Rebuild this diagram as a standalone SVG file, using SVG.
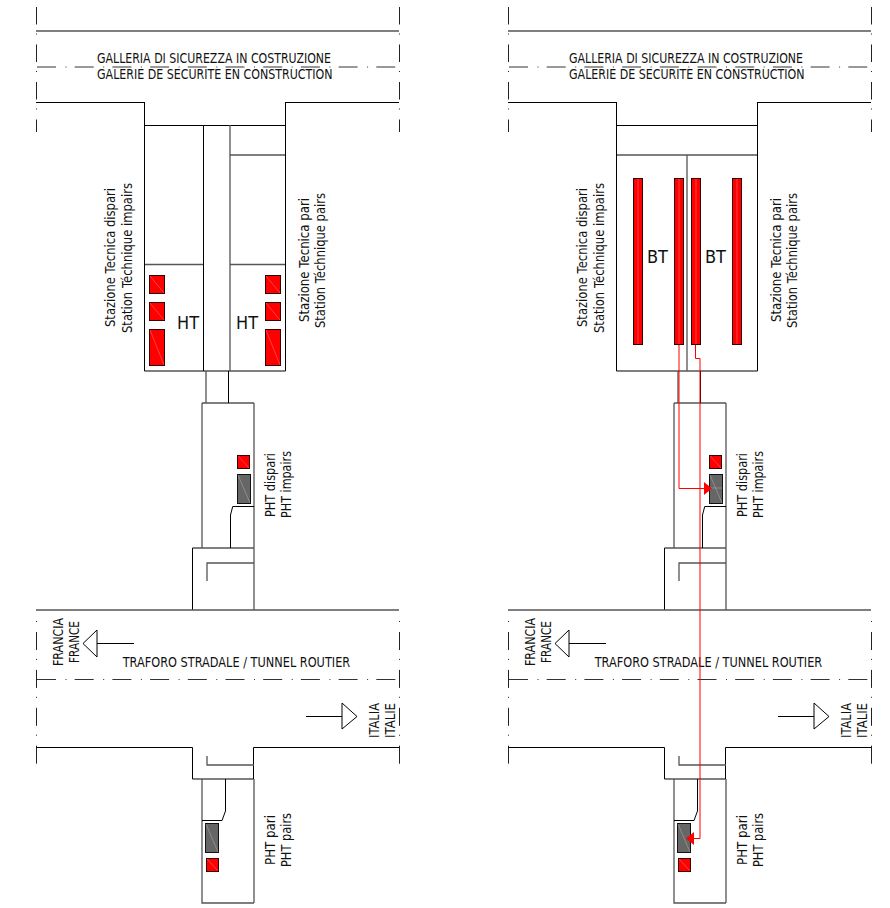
<svg xmlns="http://www.w3.org/2000/svg" width="890" height="908" viewBox="0 0 890 908">
<style>
text{font-family:"DejaVu Sans","Liberation Sans",sans-serif;font-size:13.500px;fill:#111}
.ht{font-size:17.500px}
.l{fill:none;stroke:#000;stroke-width:1}
.g{fill:none;stroke:#555;stroke-width:1.3}
.dt{fill:none;stroke:#222;stroke-width:1;stroke-dasharray:17.5 9 1 10}
.db{fill:none;stroke:#222;stroke-width:1;stroke-dasharray:1 10 18 8.9}
.dh{fill:none;stroke:#333;stroke-width:1;stroke-dasharray:19 9.5 1 8.2}
.r{fill:#f00;stroke:#300;stroke-width:1}
.k{fill:#666;stroke:#111;stroke-width:1}
.h{fill:none;stroke:#fff;stroke-opacity:.35;stroke-width:.7}
.w{fill:none;stroke:#f00;stroke-width:1}
</style>
<g id="panel-ht">
<g id="gallery">
<path class="dt" d="M36.500 7V132M399.500 7V132"/>
<path class="g" d="M36 31H399"/>
<path class="dh" d="M37 67H400"/>
<path class="l" d="M36 102.500H145M286 102.500H399"/>
<text x="97" y="63" textLength="234" lengthAdjust="spacingAndGlyphs">GALLERIA DI SICUREZZA IN COSTRUZIONE</text>
<text x="97" y="78.500" textLength="235.500" lengthAdjust="spacingAndGlyphs">GALERIE DE SECURITE EN CONSTRUCTION</text>
</g>
<g id="station-ht">
<path class="l" d="M144.500 102V371H285.500V102M144.500 125.500H285.500M203.500 125V371"/>
<path class="g" d="M230 125V371M230 155H285M145 264.500H203M230 264.500H285"/>
<rect class="r" x="149.500" y="275.500" width="15" height="18"/><path class="h" d="M150 276L164 293"/>
<rect class="r" x="149.500" y="302.500" width="15" height="18"/><path class="h" d="M150 303L164 320"/>
<rect class="r" x="149.500" y="329.500" width="15" height="36"/><path class="h" d="M150 330L164 365"/>
<rect class="r" x="265.500" y="275.500" width="15" height="18"/><path class="h" d="M266 276L280 293"/>
<rect class="r" x="265.500" y="302.500" width="15" height="18"/><path class="h" d="M266 303L280 320"/>
<rect class="r" x="265.500" y="329.500" width="15" height="36"/><path class="h" d="M266 330L280 365"/>
<text class="ht" x="177" y="329" textLength="22" lengthAdjust="spacingAndGlyphs">HT</text>
<text class="ht" x="236" y="329" textLength="22" lengthAdjust="spacingAndGlyphs">HT</text>
<text transform="translate(115 327) rotate(-90)" textLength="139" lengthAdjust="spacingAndGlyphs">Stazione Tecnica dispari</text>
<text transform="translate(131.500 333) rotate(-90)" textLength="150" lengthAdjust="spacingAndGlyphs">Station Téchnique impairs</text>
<text transform="translate(309 322) rotate(-90)" textLength="124" lengthAdjust="spacingAndGlyphs">Stazione Tecnica pari</text>
<text transform="translate(325 328) rotate(-90)" textLength="135" lengthAdjust="spacingAndGlyphs">Station Téchnique pairs</text>
</g>
<g id="pht-dispari-ht">
<path class="g" d="M206 371V403M202 403H254M202 403V548M254 403V610M192.500 548H254M207 581V563H254"/>
<path class="l" d="M228.500 371V403M192.500 548V610M230.500 548V515L232.700 506.500H254"/>
<rect class="r" x="237.500" y="455.500" width="12" height="13"/><path class="h" d="M238 456L249 468"/>
<rect class="k" x="237.500" y="474.500" width="13" height="29"/><path class="h" d="M238 475L250 503"/>
<text transform="translate(275 517) rotate(-90)" textLength="64" lengthAdjust="spacingAndGlyphs">PHT dispari</text>
<text transform="translate(290.500 518) rotate(-90)" textLength="67" lengthAdjust="spacingAndGlyphs">PHT impairs</text>
</g>
<g id="tunnel-ht">
<path class="db" d="M36.500 621V764M399.500 621V766"/>
<path class="g" d="M36 610H399"/>
<path class="dh" d="M37 679.500H400"/>
<path class="l" d="M36.500 747.500H192.500V779H253.500V747.500H399"/>
<path class="l" d="M97 643.500H134M97 630L83 643.500L97 657ZM306 716.500H342M342 703L357 716.500L342 729Z"/>
<path class="g" d="M207 756V765H254"/>
<text x="122.700" y="667" textLength="227.500" lengthAdjust="spacingAndGlyphs">TRAFORO STRADALE / TUNNEL ROUTIER</text>
<text transform="translate(63 666) rotate(-90)" textLength="48" lengthAdjust="spacingAndGlyphs">FRANCIA</text>
<text transform="translate(79 663) rotate(-90)" textLength="42" lengthAdjust="spacingAndGlyphs">FRANCE</text>
<text transform="translate(379 738) rotate(-90)" textLength="35" lengthAdjust="spacingAndGlyphs">ITALIA</text>
<text transform="translate(395 738) rotate(-90)" textLength="35" lengthAdjust="spacingAndGlyphs">ITALIE</text>
</g>
<g id="pht-pari-ht">
<path class="g" d="M202 779V903H254M254 779V903"/>
<path class="l" d="M225.500 779V811L222 820.500H202"/>
<rect class="k" x="205.500" y="823.500" width="13" height="29"/><path class="h" d="M206 824L218 852"/>
<rect class="r" x="206.500" y="858.500" width="12" height="13"/><path class="h" d="M207 859L218 871"/>
<text transform="translate(275 865) rotate(-90)" textLength="50" lengthAdjust="spacingAndGlyphs">PHT pari</text>
<text transform="translate(290.500 867) rotate(-90)" textLength="54" lengthAdjust="spacingAndGlyphs">PHT pairs</text>
</g>
</g>
<g id="panel-bt" transform="translate(472 0)">
<g id="gallery-bt">
<path class="dt" d="M36.500 7V132M399.500 7V132"/>
<path class="g" d="M36 31H399"/>
<path class="dh" d="M37 67H400"/>
<path class="l" d="M36 102.500H145M286 102.500H399"/>
<text x="97" y="63" textLength="234" lengthAdjust="spacingAndGlyphs">GALLERIA DI SICUREZZA IN COSTRUZIONE</text>
<text x="97" y="78.500" textLength="235.500" lengthAdjust="spacingAndGlyphs">GALERIE DE SECURITE EN CONSTRUCTION</text>
</g>
<g id="station-bt">
<path class="l" d="M144.500 102V371H285.500V102M144.500 125.500H285.500"/>
<path class="g" d="M145 155H285M215 155V371"/>
<rect class="r" x="161.500" y="178.500" width="9" height="166"/><path class="h" d="M166 179V344"/>
<rect class="r" x="202.500" y="178.500" width="9" height="166"/><path class="h" d="M207 179V344"/>
<rect class="r" x="219.500" y="178.500" width="9" height="166"/><path class="h" d="M224 179V344"/>
<rect class="r" x="260.500" y="178.500" width="9" height="166"/><path class="h" d="M265 179V344"/>
<text class="ht" x="175" y="263" textLength="21" lengthAdjust="spacingAndGlyphs">BT</text>
<text class="ht" x="233" y="263" textLength="21" lengthAdjust="spacingAndGlyphs">BT</text>
<text transform="translate(115 327) rotate(-90)" textLength="139" lengthAdjust="spacingAndGlyphs">Stazione Tecnica dispari</text>
<text transform="translate(131.500 333) rotate(-90)" textLength="150" lengthAdjust="spacingAndGlyphs">Station Téchnique impairs</text>
<text transform="translate(309 322) rotate(-90)" textLength="124" lengthAdjust="spacingAndGlyphs">Stazione Tecnica pari</text>
<text transform="translate(325 328) rotate(-90)" textLength="135" lengthAdjust="spacingAndGlyphs">Station Téchnique pairs</text>
</g>
<g id="pht-dispari-bt">
<path class="g" d="M206 371V403M202 403H254M202 403V548M254 403V610M192.500 548H254M207 581V563H254"/>
<path class="l" d="M228.500 371V403M192.500 548V610M230.500 548V515L232.700 506.500H254"/>
<rect class="r" x="237.500" y="455.500" width="12" height="13"/><path class="h" d="M238 456L249 468"/>
<rect class="k" x="237.500" y="474.500" width="13" height="29"/><path class="h" d="M238 475L250 503M238 488H250"/>
<text transform="translate(275 517) rotate(-90)" textLength="64" lengthAdjust="spacingAndGlyphs">PHT dispari</text>
<text transform="translate(290.500 518) rotate(-90)" textLength="67" lengthAdjust="spacingAndGlyphs">PHT impairs</text>
</g>
<g id="tunnel-bt">
<path class="db" d="M36.500 621V764M399.500 621V766"/>
<path class="g" d="M36 610H399"/>
<path class="dh" d="M37 679.500H400"/>
<path class="l" d="M36.500 747.500H192.500V779H253.500V747.500H399"/>
<path class="l" d="M97 643.500H134M97 630L83 643.500L97 657ZM306 716.500H342M342 703L357 716.500L342 729Z"/>
<path class="g" d="M207 756V765H254"/>
<text x="122.700" y="667" textLength="227.500" lengthAdjust="spacingAndGlyphs">TRAFORO STRADALE / TUNNEL ROUTIER</text>
<text transform="translate(63 666) rotate(-90)" textLength="48" lengthAdjust="spacingAndGlyphs">FRANCIA</text>
<text transform="translate(79 663) rotate(-90)" textLength="42" lengthAdjust="spacingAndGlyphs">FRANCE</text>
<text transform="translate(379 738) rotate(-90)" textLength="35" lengthAdjust="spacingAndGlyphs">ITALIA</text>
<text transform="translate(395 738) rotate(-90)" textLength="35" lengthAdjust="spacingAndGlyphs">ITALIE</text>
</g>
<g id="pht-pari-bt">
<path class="g" d="M202 779V903H254M254 779V903"/>
<path class="l" d="M225.500 779V811L222 820.500H202"/>
<rect class="k" x="205.500" y="823.500" width="13" height="29"/><path class="h" d="M206 824L218 852"/>
<rect class="r" x="206.500" y="858.500" width="12" height="13"/><path class="h" d="M207 859L218 871"/>
<text transform="translate(275 865) rotate(-90)" textLength="50" lengthAdjust="spacingAndGlyphs">PHT pari</text>
<text transform="translate(290.500 867) rotate(-90)" textLength="54" lengthAdjust="spacingAndGlyphs">PHT pairs</text>
</g>
</g>
<g id="connectors">
<path class="w" d="M679 345V488.500H706"/>
<path fill="#f00" d="M704 482L712 488.500L704 495Z"/>
<path class="w" d="M695.500 345V358.500H700V838.500H692"/>
<path fill="#f00" d="M694 832L686 838.500L694 845Z"/>
</g>
</svg>
